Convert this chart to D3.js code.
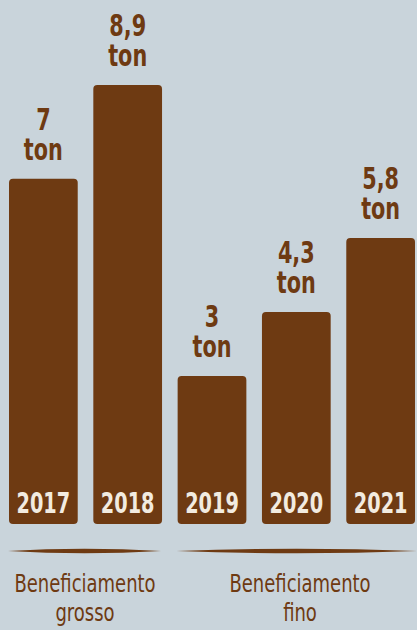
<!DOCTYPE html>
<html>
<head>
<meta charset="utf-8">
<script src="https://cdn.jsdelivr.net/npm/d3@7"></script>
<style>
  html, body { margin: 0; padding: 0; background: #c9d4db; }
  svg { display: block; }
</style>
</head>
<body>
<div class="chart"></div>
<script>
// Data
var years = ["2017", "2018", "2019", "2020", "2021"];
var tons = [7, 8.9, 3, 4.3, 5.8];
var valueLabels = ["7", "8,9", "3", "4,3", "5,8"];
var groupNames = [["Beneficiamento", "grosso"], ["Beneficiamento", "fino"]];
var groupYears = [["2017", "2018"], ["2019", "2020", "2021"]];

var svgWidth = 417;
var svgHeight = 630;
var brown = "#6e3a12";
// no narrow font installed, so condensed DejaVu squeezed horizontally
var font = "'DejaVu Sans Condensed', 'DejaVu Sans', sans-serif";
var squeeze = 0.74;

var svg = d3.select(".chart")
  .append("svg")
  .attr("width", svgWidth)
  .attr("height", svgHeight);

// background
svg.append("rect")
  .attr("width", svgWidth)
  .attr("height", svgHeight)
  .attr("fill", "#c9d4db");

// scales
var x = d3.scaleBand()
  .domain(years)
  .range([9, 415])
  .paddingInner(0.185)
  .paddingOuter(0);

var y = d3.scaleLinear()
  .domain([0, 8.9])
  .range([524, 85]);

var data = years.map(function(d, i) {
  return { year: d, ton: tons[i], label: valueLabels[i] };
});

var cx = d => x(d.year) + x.bandwidth() / 2;

// bars
svg.selectAll("rect.bar")
  .data(data)
  .enter()
  .append("rect")
  .attr("class", "bar")
  .attr("x", d => x(d.year))
  .attr("y", d => y(d.ton))
  .attr("width", x.bandwidth())
  .attr("height", d => y(0) - y(d.ton))
  .attr("rx", 4)
  .attr("fill", brown);

// year labels inside bars
svg.selectAll("text.year")
  .data(data)
  .enter()
  .append("text")
  .attr("class", "year")
  .attr("transform", d => `translate(${cx(d)},513) scale(${squeeze},1)`)
  .attr("text-anchor", "middle")
  .style("font-family", font)
  .style("font-weight", "bold")
  .style("font-size", "29px")
  .attr("fill", "#f2ebe0")
  .text(d => d.year);

// value labels above bars
var values = svg.selectAll("text.value")
  .data(data)
  .enter()
  .append("text")
  .attr("class", "value")
  .attr("transform", d => `translate(${cx(d)},${y(d.ton) - 49}) scale(${squeeze + 0.03},1)`)
  .attr("text-anchor", "middle")
  .style("font-family", font)
  .style("font-weight", "bold")
  .style("font-size", "30px")
  .attr("fill", brown);

values.append("tspan")
  .attr("x", 0)
  .text(d => d.label);

values.append("tspan")
  .attr("x", 0)
  .attr("dy", 30)
  .text("ton");

// group brush lines and labels
groupYears.forEach(function(g, i) {
  var x0 = x(g[0]) - 1;
  var x1 = i === 1 ? svgWidth : x(g[g.length - 1]) + x.bandwidth() - 1;
  var yl = 551;
  svg.append("path")
    .attr("d", `M${x0},${yl} Q${(x0 + x1) / 2},${yl - 4.6} ${x1},${yl} Q${(x0 + x1) / 2},${yl + 4.6} ${x0},${yl} Z`)
    .attr("fill", brown);

  var gx = i === 0 ? 85 : 300;
  var t = svg.append("text")
    .attr("transform", `translate(${gx},592) scale(0.8,1)`)
    .attr("text-anchor", "middle")
    .style("font-family", font)
    .style("font-size", "25px")
    .attr("fill", brown);
  t.append("tspan").attr("x", 0).text(groupNames[i][0]);
  t.append("tspan").attr("x", 0).attr("dy", 29).text(groupNames[i][1]);
});
</script>
</body>
</html>
